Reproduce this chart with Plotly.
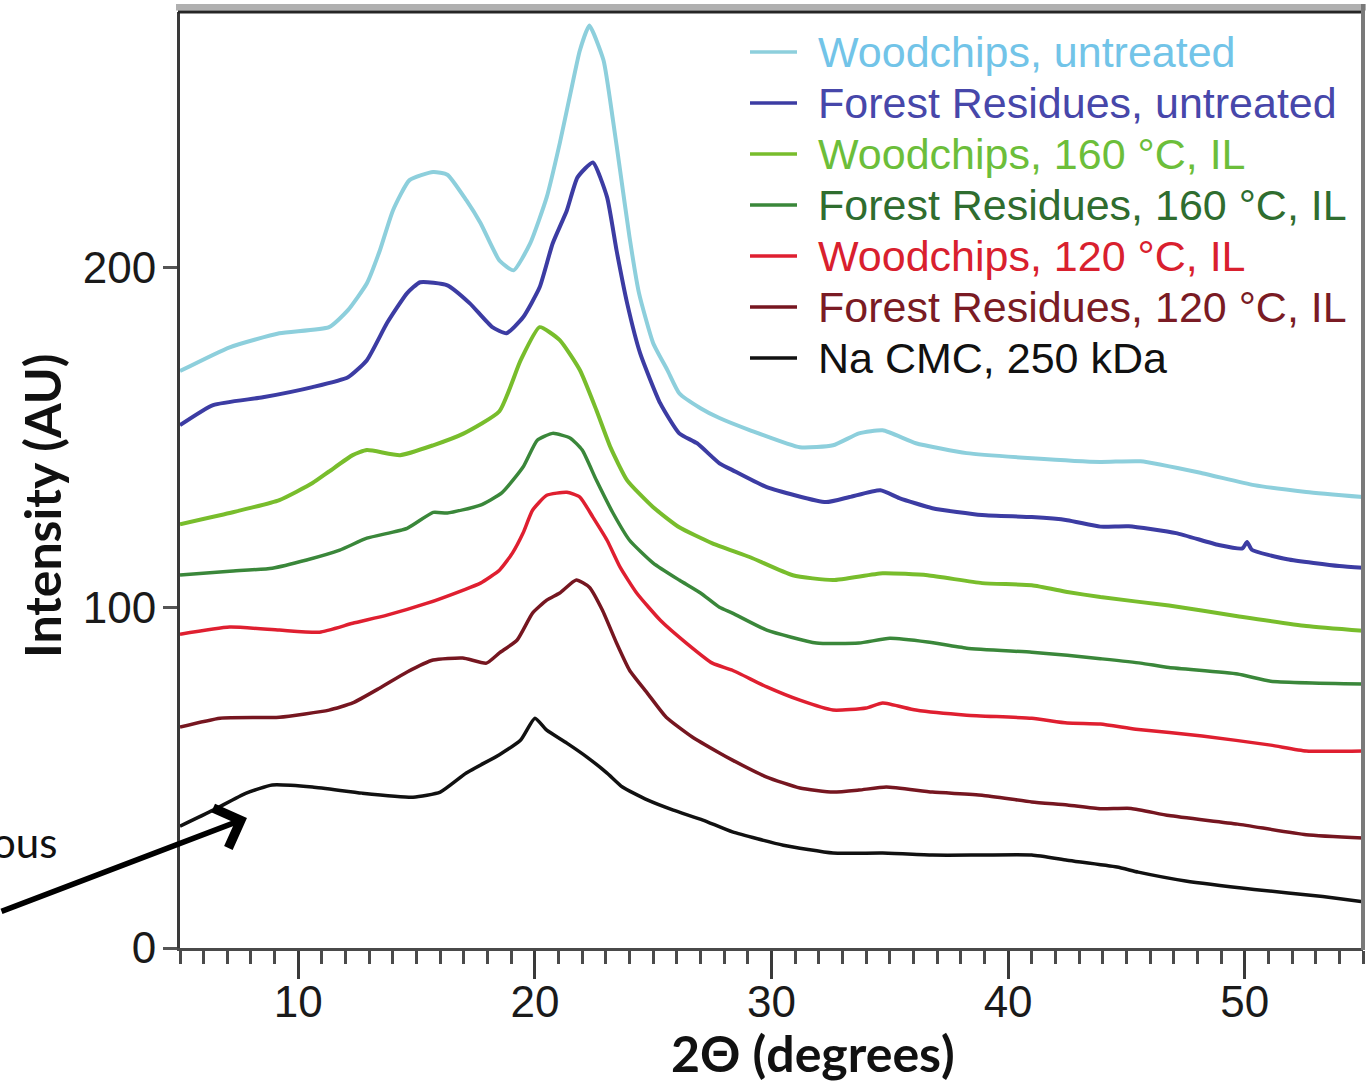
import plotly.graph_objects as go

# ---- XRD diffractograms: 2-theta (degrees) and intensity (AU), offset stacked ----
wc_untreated_x = [5.0, 7.1, 9.2, 11.3, 12.1, 12.9, 13.45, 14.0, 14.7, 15.7, 16.3, 17.1, 17.7,
                  18.5, 19.1, 19.8, 20.5, 21.05, 21.5, 21.9, 22.3, 22.9, 23.3, 23.6, 24.0, 24.4,
                  25.0, 25.6, 26.1, 27.0, 27.8, 29.1, 31.2, 32.6, 33.7, 34.7, 36.1, 38.25, 41.0,
                  43.9, 45.6, 48.2, 50.4, 52.6, 55.0]
wc_untreated_y = [169.5, 176.5, 180.6, 182.4, 187.4, 195.3, 205.0, 216.7, 225.6, 228.0, 227.2,
                  219.7, 213.0, 202.0, 199.1, 207.0, 220.6, 236.4, 251.0, 263.7, 271.0, 260.8,
                  243.2, 228.5, 208.8, 192.4, 177.7, 169.8, 163.0, 158.6, 155.7, 152.1, 147.1,
                  147.7, 151.2, 152.1, 148.3, 145.4, 143.9, 142.8, 143.0, 139.5, 136.0, 134.0,
                  132.5]

fr_untreated_x = [5.0, 6.4, 8.5, 10.6, 12.1, 12.9, 13.75, 14.6, 15.15, 16.3, 17.25, 18.2, 18.8,
                  19.5, 20.2, 20.75, 21.35, 21.8, 22.45, 23.05, 23.45, 23.9, 24.45, 25.3, 26.1,
                  26.85, 27.8, 28.35, 29.8, 32.3, 33.3, 34.6, 35.4, 36.8, 38.9, 41.0, 42.5, 43.9,
                  45.1, 47.1, 48.9, 49.9, 50.1, 50.3, 51.8, 54.0, 55.0]
fr_untreated_y = [153.6, 159.5, 161.8, 164.8, 167.7, 172.7, 183.6, 192.4, 195.6, 194.7, 189.4,
                  182.4, 180.6, 185.3, 194.1, 207.0, 216.7, 226.4, 230.8, 220.6, 205.0, 189.4,
                  174.7, 160.0, 151.2, 148.3, 142.4, 140.4, 135.4, 131.0, 132.5, 134.5, 132.2,
                  129.2, 127.2, 126.6, 125.7, 123.8, 123.9, 121.9, 118.4, 117.4, 119.3, 117.0,
                  114.2, 112.2, 111.7]

wc_160_x = [5.0, 7.1, 9.2, 10.6, 11.3, 12.3, 12.9, 14.3, 15.7, 17.0, 18.5, 19.4, 20.2, 21.05,
            21.9, 22.6, 23.2, 23.9, 25.0, 26.1, 27.5, 29.1, 30.9, 32.6, 34.7, 36.6, 38.9, 41.0,
            42.5, 43.9, 46.8, 49.7, 52.6, 55.0]
wc_160_y = [124.5, 127.8, 131.6, 136.6, 140.0, 144.8, 146.3, 144.8, 147.7, 151.2, 157.7, 172.7,
            182.4, 178.6, 169.8, 158.0, 147.0, 137.4, 129.5, 123.6, 118.9, 114.8, 109.5, 108.1,
            110.1, 109.5, 107.2, 106.6, 104.6, 103.1, 100.6, 97.5, 94.6, 93.2]

fr_160_x = [5.0, 7.1, 8.9, 10.35, 11.75, 12.9, 14.6, 15.7, 16.3, 17.7, 18.6, 19.5, 20.1, 20.75,
            21.5, 22.0, 22.6, 23.3, 24.0, 25.0, 26.1, 27.0, 27.8, 28.35, 29.8, 31.9, 33.7, 35.0,
            36.6, 38.25, 41.0, 42.5, 43.9, 45.6, 46.8, 49.7, 51.1, 55.0]
fr_160_y = [109.6, 110.7, 111.6, 114.0, 116.9, 120.4, 123.3, 128.0, 127.8, 130.1, 133.7, 141.3,
            149.2, 151.2, 149.8, 146.3, 137.4, 127.8, 119.8, 113.1, 108.1, 104.3, 100.1, 98.4,
            93.4, 89.6, 89.6, 91.0, 89.9, 88.1, 86.9, 86.0, 85.0, 83.7, 82.4, 80.5, 78.4, 77.6]

wc_120_x = [5.0, 7.1, 9.2, 10.9, 12.3, 13.75, 15.45, 16.95, 17.7, 18.5, 19.05, 19.5, 19.9, 20.5,
            21.35, 21.9, 22.45, 23.05, 23.6, 24.3, 25.3, 26.4, 27.5, 28.35, 29.8, 31.2, 32.6,
            34.0, 34.7, 36.1, 38.25, 41.0, 42.5, 43.9, 45.4, 48.2, 51.1, 52.6, 55.0]
wc_120_y = [92.2, 94.3, 93.4, 92.8, 95.4, 97.8, 101.3, 105.1, 107.2, 111.0, 116.0, 121.9, 128.6,
            133.0, 133.9, 132.5, 126.6, 119.8, 111.9, 104.3, 96.3, 89.6, 83.7, 81.6, 76.7, 72.8,
            69.9, 70.5, 72.0, 69.9, 68.4, 67.5, 66.1, 65.8, 64.3, 62.3, 59.6, 57.9, 57.9]

fr_120_x = [5.0, 6.7, 9.2, 11.3, 12.3, 13.45, 14.6, 15.7, 16.95, 17.95, 18.5, 19.25, 19.9, 20.5,
            21.05, 21.75, 22.3, 22.85, 23.45, 24.0, 24.75, 25.55, 26.65, 27.8, 28.35, 29.8, 31.2,
            32.6, 33.7, 34.85, 36.8, 38.9, 41.0, 42.5, 43.9, 45.2, 46.8, 49.7, 52.6, 55.0]
fr_120_y = [64.9, 67.5, 67.8, 69.9, 72.0, 76.4, 81.1, 84.6, 85.2, 83.7, 86.7, 90.5, 98.4, 102.2,
            104.3, 108.1, 106.0, 99.3, 89.6, 81.6, 74.9, 67.8, 62.0, 57.3, 55.2, 50.2, 47.0, 45.8,
            46.4, 47.3, 45.8, 44.9, 42.9, 42.0, 40.9, 41.0, 38.9, 36.4, 33.3, 32.3]

cmc_x = [5.0, 6.4, 7.8, 8.9, 10.6, 12.7, 14.85, 16.0, 17.1, 18.5, 19.4, 20.0, 20.5, 21.35, 22.2,
         23.05, 23.7, 24.75, 25.85, 27.1, 28.35, 30.5, 32.6, 34.7, 36.8, 38.9, 41.0, 42.5, 44.6,
         45.5, 47.5, 50.4, 53.3, 55.0]
cmc_y = [35.8, 40.5, 45.5, 47.9, 47.3, 45.5, 44.3, 45.8, 51.4, 56.8, 61.1, 67.5, 64.0, 60.2,
         56.1, 51.4, 47.3, 43.5, 40.5, 37.6, 34.1, 30.2, 27.9, 27.9, 27.3, 27.3, 27.3, 25.8, 23.8,
         22.3, 19.7, 17.2, 15.1, 13.6]

series_names = [
    "Woodchips, untreated",
    "Forest Residues, untreated",
    "Woodchips, 160 °C, IL",
    "Forest Residues, 160 °C, IL",
    "Woodchips, 120 °C, IL",
    "Forest Residues, 120 °C, IL",
    "Na CMC, 250 kDa",
]
series_x = [wc_untreated_x, fr_untreated_x, wc_160_x, fr_160_x, wc_120_x, fr_120_x, cmc_x]
series_y = [wc_untreated_y, fr_untreated_y, wc_160_y, fr_160_y, wc_120_y, fr_120_y, cmc_y]

x_ticks = [10, 20, 30, 40, 50]
y_ticks = [0, 100, 200]

# ---- styling ----
line_colors = ["#8dcfdc", "#3c3ca3", "#78bd2c", "#3a873a", "#df1f30", "#761620", "#111111"]
label_colors = ["#72c4e8", "#4747aa", "#6cbe3a", "#2f6d2f", "#d9202e", "#7a1b24", "#111111"]
line_widths = [4, 4, 4, 3.5, 3.5, 3.5, 3.5]

W, H = 1366, 1081
M_L, M_R, M_T, M_B = 180, 3, 12, 133
PLOT_W = W - M_L - M_R
PLOT_H = H - M_T - M_B


def paper_x(px):
    return (px - M_L) / PLOT_W


def paper_y(py):
    return (H - M_B - py) / PLOT_H


TICK_FONT = dict(family="Liberation Sans, Arial, sans-serif", size=44, color="#1a1a1a")
TITLE_FONT = dict(family="Lato, 'Open Sans', sans-serif", size=50, color="#111111")

fig = go.Figure()
for name, xs, ys, col, lw in zip(series_names, series_x, series_y, line_colors, line_widths):
    fig.add_trace(go.Scatter(
        x=xs, y=ys, name=name, mode="lines",
        line=dict(color=col, width=lw, shape="spline", smoothing=0.5),
        showlegend=False, hoverinfo="x+y+name",
    ))

# legend drawn as sample lines + coloured labels
shapes = []
annotations = []
legend_top, legend_step = 52, 51
for i, (name, col, tcol) in enumerate(zip(series_names, line_colors, label_colors)):
    py = legend_top + legend_step * i
    shapes.append(dict(type="line", xref="paper", yref="paper",
                       x0=paper_x(750), x1=paper_x(797), y0=paper_y(py), y1=paper_y(py),
                       line=dict(color=col, width=3.5)))
    annotations.append(dict(text=name, xref="paper", yref="paper",
                            x=paper_x(816), y=paper_y(py), xanchor="left", yanchor="middle",
                            showarrow=False,
                            font=dict(family="Liberation Sans, Arial, sans-serif", size=43,
                                      color=tcol)))

# frame: dark top edge with grey band, grey right edge
shapes.append(dict(type="rect", xref="paper", yref="paper", layer="above",
                   x0=paper_x(176), x1=1.003, y0=paper_y(10.5), y1=paper_y(4),
                   fillcolor="#b0b0b0", line=dict(width=0)))
shapes.append(dict(type="line", xref="paper", yref="paper", layer="above",
                   x0=paper_x(178), x1=1, y0=1, y1=1, line=dict(color="#262626", width=3)))
shapes.append(dict(type="line", xref="paper", yref="paper", layer="above",
                   x0=1, x1=1, y0=paper_y(H - M_B + 2), y1=paper_y(4),
                   line=dict(color="#7a7a7a", width=4)))

# axis titles
annotations.append(dict(text="<b>Intensity (AU)</b>", xref="paper", yref="paper",
                        x=paper_x(42), y=paper_y(506), xanchor="center", yanchor="middle",
                        textangle=-90, showarrow=False, font=TITLE_FONT))
annotations.append(dict(text="<b>2Θ (degrees)</b>", xref="paper", yref="paper",
                        x=paper_x(813), y=paper_y(1053), xanchor="center", yanchor="middle",
                        showarrow=False, font=TITLE_FONT))

# amorphous-halo callout
annotations.append(dict(text="Amorphous", xref="paper", yref="paper",
                        x=paper_x(59), y=paper_y(842), xanchor="right", yanchor="middle",
                        showarrow=False,
                        font=dict(family="Lato, 'Open Sans', sans-serif", size=42,
                                  color="#111111")))
annotations.append(dict(text="", x=7.83, y=38.2, xref="x", yref="y",
                        showarrow=True, ax=-257, ay=94, axref="pixel", ayref="pixel",
                        arrowhead=4, arrowsize=1.5, arrowwidth=5.5, arrowcolor="#000000"))

fig.update_layout(
    width=W, height=H,
    margin=dict(l=M_L, r=M_R, t=M_T, b=M_B, pad=0),
    paper_bgcolor="white", plot_bgcolor="white",
    showlegend=False,
    shapes=shapes,
    annotations=annotations,
    xaxis=dict(
        range=[5, 55], tickvals=x_ticks, ticks="outside", ticklen=28, tickwidth=3,
        tickcolor="#3a3a3a", showline=True, linecolor="#4a4a4a", linewidth=3,
        showgrid=False, zeroline=False, tickfont=TICK_FONT, ticklabelstandoff=-15,
        minor=dict(dtick=1, tick0=0, ticks="outside", ticklen=13, tickwidth=2.5,
                   tickcolor="#4a4a4a", showgrid=False),
    ),
    yaxis=dict(
        range=[0, 275], tickvals=y_ticks, ticks="outside", ticklen=14, tickwidth=3,
        tickcolor="#555555", showline=True, linecolor="#3a3a3a", linewidth=3,
        showgrid=False, zeroline=False, tickfont=TICK_FONT, ticklabelstandoff=-2,
    ),
)

fig.write_html("out.html")
